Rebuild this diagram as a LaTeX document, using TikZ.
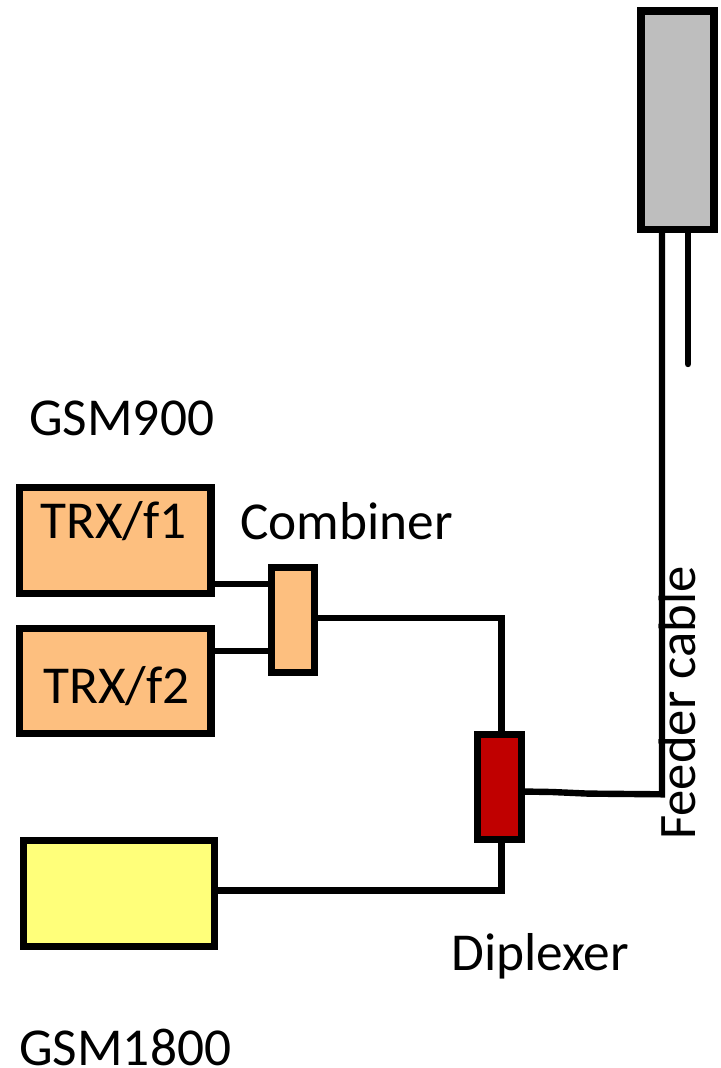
\documentclass[tikz,border=0pt]{standalone}
\usepackage{fontspec}
\setmainfont{Carlito}
\definecolor{orangeb}{HTML}{FDBF7F}
\definecolor{yellowb}{HTML}{FFFF7A}
\definecolor{redb}{HTML}{C00000}
\definecolor{grayb}{HTML}{BEBEBE}
\tikzset{
 px/.style={x=0.75pt,y=-0.75pt},
 boxn/.style={draw=black,line width=5.4pt,inner sep=0pt,outer sep=0pt,anchor=north west},
 wire/.style={draw=black,line width=4.8pt},
 lab/.style={font=\fontsize{40pt}{42pt}\selectfont,text=black,inner sep=0pt}
}
\begin{document}
\begin{tikzpicture}[px]
\useasboundingbox (0,0) rectangle (721,1068);
% connectors
\coordinate (c1) at (501.5,618);
\coordinate (c2) at (501.5,890.5);
\coordinate (c3) at (662,794.3);
\coordinate (a1) at (662,230);
\coordinate (a2) at (688,230);
\coordinate (a3) at (688,364);
\node[boxn,fill=orangeb,minimum width=143.6pt,minimum height=79.5pt] (t1) at (19.5,487.5) {};
\node[boxn,fill=orangeb,minimum width=143.6pt,minimum height=78.75pt] (t2) at (19.5,628.5) {};
\node[boxn,fill=orangeb,minimum width=32.25pt,minimum height=78.75pt] (comb) at (271.5,567.5) {};
\node[boxn,fill=redb,minimum width=33pt,minimum height=78.75pt] (dip) at (477.5,734.5) {};
\node[boxn,fill=yellowb,minimum width=143.25pt,minimum height=79.5pt] (y) at (23.5,840.5) {};
\draw[wire] (t1.east |- 0,584) -- (comb.west |- 0,584);
\draw[wire] (t2.east |- 0,651) -- (comb.west |- 0,651);
\draw[wire] (comb.east |- c1) -- (c1) -- (dip.north -| c1);
\draw[wire] (y.east |- c2) -- (c2) -- (dip.south -| c2);
\draw[wire] (dip.east |- 0,791.5) -- (552,792) -- (588,793.6) -- (c3) -- (a1);
\draw[wire,line cap=round] (a2) -- (a3);
\node[boxn,fill=grayb,minimum width=54.75pt,minimum height=164pt] (ant) at (641,11) {};
% labels
\node[lab,anchor=base west] (l1) at (29,435.5) {GSM900};
\node[lab,anchor=base west] (l2) at (40,538) {TRX/f1};
\node[lab,anchor=base west] (l3) at (43,703.5) {TRX/f2};
\node[lab,anchor=base west] (l4) at (240,539) {Combiner};
\node[lab,anchor=base west] (l5) at (451,970) {Diplexer};
\node[lab,anchor=base west] (l6) at (19,1065) {GSM1800};
\node[lab,anchor=base west,rotate=90,font=\fontsize{39.5pt}{42pt}\selectfont] (l7) at (695,840) {Feeder cable};
\end{tikzpicture}
\end{document}
